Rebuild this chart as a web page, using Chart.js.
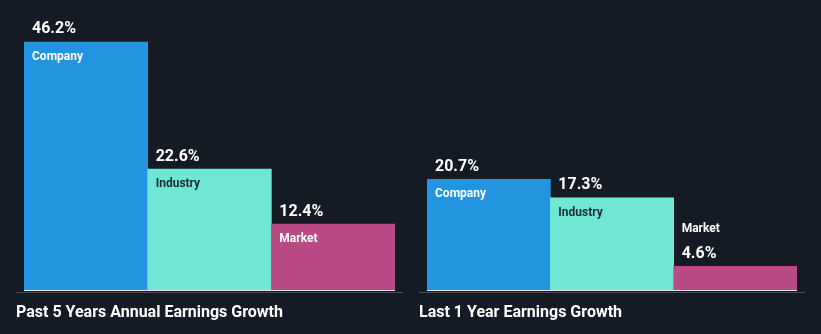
<!DOCTYPE html>
<html>
<head>
<meta charset="utf-8">
<script src="https://cdn.jsdelivr.net/npm/chart.js@4"></script>
<style>
  html, body { margin: 0; padding: 0; background: #151b25; }
  #wrap { position: relative; width: 821px; height: 334px; }
  .box { position: absolute; top: 0; height: 334px; }
</style>
</head>
<body>
<div id="wrap">
  <div class="box" style="left:0;width:410px"><canvas id="c1"></canvas></div>
  <div class="box" style="left:410px;width:411px"><canvas id="c2"></canvas></div>
</div>
<script>
var categories = ['Company', 'Industry', 'Market'];
var past5Years = [46.2, 22.6, 12.4];
var last1Year = [20.7, 17.3, 4.6];
var titles = ['Past 5 Years Annual Earnings Growth', 'Last 1 Year Earnings Growth'];
var barColors = ['#2394e0', '#70e7d5', '#b94a86'];
var nameColors = ['#ffffff', '#1d2b36', '#ffffff'];

var fontFam = 'Roboto, "Noto Sans", sans-serif';

// draws value labels, names inside bars, base line and title
var labelsPlugin = {
  id: 'labels',
  afterDatasetsDraw: function (chart) {
    var ctx = chart.ctx;
    var area = chart.chartArea;
    var meta = chart.getDatasetMeta(0);
    var vals = chart.data.datasets[0].data;
    ctx.save();

    // base lines
    ctx.fillStyle = '#474d57';
    ctx.fillRect(area.left - 8, area.bottom + 1, area.right - area.left + 16, 1);
    ctx.fillStyle = '#e6e8ea';
    ctx.fillRect(area.left, area.bottom - 1, area.right - area.left, 1);

    ctx.textBaseline = 'alphabetic';
    ctx.textAlign = 'left';
    meta.data.forEach(function (bar, i) {
      var x = bar.x - bar.width / 2 + 8;
      var top = bar.y;
      var small = (area.bottom - top) < 40;
      ctx.font = 'bold 16px ' + fontFam;
      ctx.fillStyle = '#ffffff';
      ctx.fillText(vals[i].toFixed(1) + '%', x, top - 8.5);
      ctx.font = 'bold 12px ' + fontFam;
      if (small) {
        ctx.fillStyle = '#ffffff';
        ctx.fillText(categories[i], x, top - 34);
      } else {
        ctx.fillStyle = nameColors[i];
        ctx.fillText(categories[i], x, top + 18);
      }
    });

    ctx.font = 'bold 16px ' + fontFam;
    ctx.fillStyle = '#ffffff';
    ctx.fillText(chart.options.plugins.labels.title, area.left - 8, 317);
    ctx.restore();
  }
};

function makeChart(id, values, title, padLeft, padRight) {
  return new Chart(document.getElementById(id), {
    type: 'bar',
    data: {
      labels: categories,
      datasets: [{
        data: values,
        backgroundColor: barColors,
        borderWidth: 0,
        barPercentage: 1,
        categoryPercentage: 1
      }]
    },
    options: {
      responsive: true,
      maintainAspectRatio: false,
      animation: false,
      layout: { padding: { top: 21.5, bottom: 43, left: padLeft, right: padRight } },
      scales: {
        x: { display: false },
        y: { display: false, min: 0, max: 50 }
      },
      plugins: {
        legend: { display: false },
        tooltip: { enabled: false },
        labels: { title: title }
      }
    },
    plugins: [labelsPlugin]
  });
}

makeChart('c1', past5Years, titles[0], 24, 15);
makeChart('c2', last1Year, titles[1], 17, 24);
</script>
</body>
</html>
